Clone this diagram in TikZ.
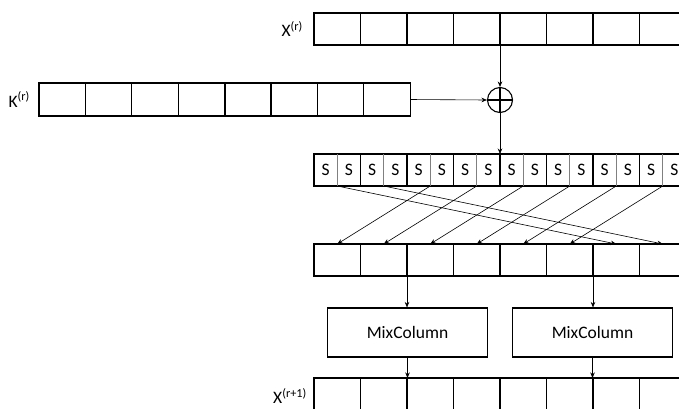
\documentclass[tikz,border=0pt]{standalone}
\usepackage{fontspec}
\setmainfont{Carlito}
\usetikzlibrary{arrows.meta}
\begin{document}
\begin{tikzpicture}[x=1pt,y=-1pt,
  cell/.style={draw=black, line width=1.1pt, minimum width=46.5pt, minimum height=32pt, inner sep=0pt, outer sep=0pt, anchor=north west},
  kcell/.style={cell, minimum width=46.4pt, minimum height=33pt},
  sbox/.style={inner sep=0pt, font=\fontsize{17.5}{20}\selectfont},
  lbl/.style={inner sep=0pt, anchor=east, font=\fontsize{17.5}{20}\selectfont},
  mix/.style={draw=black, line width=1.1pt, minimum width=160pt, minimum height=49pt, inner sep=0pt, font=\fontsize{17.5}{20}\selectfont},
  arr/.style={line width=0.6pt, -{Stealth[length=5.5pt,width=4.5pt]}},
  mid/.style={line width=2pt},
  half/.style={draw=gray, line width=0.7pt}]
\useasboundingbox (0,0) rectangle (679,408);
\clip (0,0) rectangle (679,408);
% rows of cells
\foreach \k in {0,...,7}{
  \node[cell] (xr-\k) at ({314+46.5*\k},13) {};
  \node[kcell] (kr-\k) at ({39+46.4*\k},83) {};
  \node[cell] (s-\k) at ({314+46.5*\k},154) {};
  \node[cell] (p-\k) at ({314+46.5*\k},244) {};
  \node[cell] (xo-\k) at ({314+46.5*\k},378) {};
}
% S boxes
\foreach \k in {0,...,7}{
  \draw[half] (s-\k.north) -- (s-\k.south);
  \node[sbox] (sa-\k) at ({314+46.5*\k+11.6},170) {S};
  \node[sbox] (sb-\k) at ({314+46.5*\k+34.9},170) {S};
}
% thick middle lines
\draw[mid] (xr-3.north east) -- (xr-3.south east);
\draw[mid] (kr-3.north east) -- (kr-3.south east);
\draw[mid] (s-3.north east) -- (s-3.south east);
\draw[mid] (p-3.north east) -- (p-3.south east);
\draw[mid] (xo-3.north east) -- (xo-3.south east);
% labels
\node[lbl] (lx) at ([xshift=-11pt]xr-0.west) {X\textsuperscript{(r)}};
\node[lbl] (lk) at ([xshift=-9pt]kr-0.west) {K\textsuperscript{(r)}};
\node[lbl] (lxo) at ([xshift=-7pt,yshift=-2pt]xo-0.west) {X\textsuperscript{(r+1)}};
% XOR
\node[draw=black, line width=1.1pt, circle, minimum size=25pt, inner sep=0pt,
  path picture={\draw[line width=1.1pt] (path picture bounding box.north) -- (path picture bounding box.south)
  (path picture bounding box.west) -- (path picture bounding box.east);}] (xor) at (500,100) {};
\draw[arr] (xr-3.south east) -- (xor.north);
\draw[arr] (kr-7.east) -- (xor.west);
\draw[arr] (xor.south) -- (s-3.north east);
% permutation
\draw[arr] (s-0.south) -- (p-6.north);
\draw[arr] (s-1.south) -- (p-7.north);
\foreach \k [evaluate=\k as \j using int(\k-2)] in {2,...,7}{
  \draw[arr] (s-\k.south) -- (p-\j.north);
}
% MixColumn
\node[mix] (mc1) at (407.5,332.5) {MixColumn};
\node[mix] (mc2) at (592.5,332.5) {MixColumn};
\draw[arr] (p-1.south east) -- (p-1.south east |- mc1.north);
\draw[arr] (p-5.south east) -- (p-5.south east |- mc2.north);
\draw[arr] (mc1.south) -- (mc1.south |- xo-1.north east);
\draw[arr] (mc2.south) -- (mc2.south |- xo-5.north east);
\end{tikzpicture}
\end{document}
